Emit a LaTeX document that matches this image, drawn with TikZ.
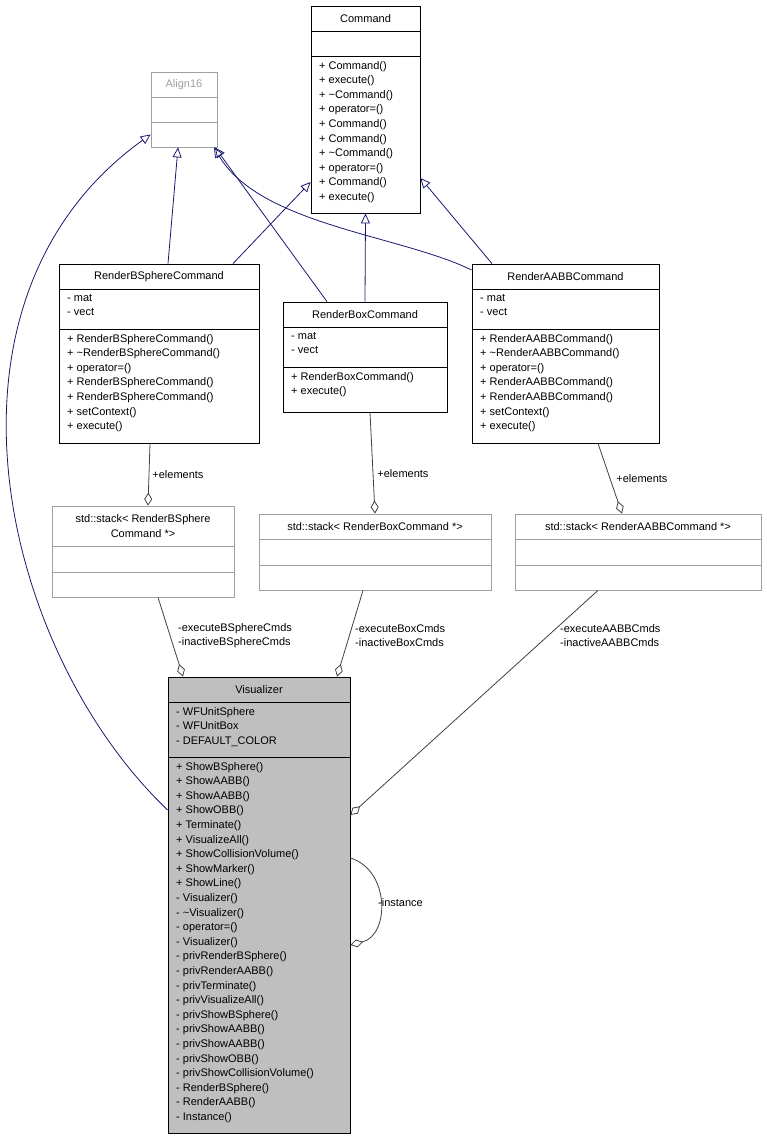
\documentclass[tikz,border=0pt]{standalone}
\usepackage{fontspec}
\setmainfont{Liberation Sans}
\usetikzlibrary{arrows.meta}
\definecolor{edgeblue}{HTML}{191970}
\definecolor{edgegray}{HTML}{404040}
\definecolor{boxgray}{HTML}{BFBFBF}
\definecolor{undocgray}{HTML}{A0A0A0}
\tikzset{
  cls/.style={draw=black, fill=white, line width=0.8pt, inner sep=0pt},
  undoc/.style={cls, draw=undocgray},
  cur/.style={cls, fill=boxgray},
  sep/.style={line width=0.8pt},
  members/.style={anchor=north west, align=left, inner sep=0pt},
  title/.style={anchor=center, align=center, inner sep=0pt},
  inherit/.style={draw=edgeblue, line width=0.8pt, -{Triangle[open, length=10pt, width=9pt]}},
  aggr/.style={draw=edgegray, line width=0.8pt, -{Diamond[open, length=13pt, width=8pt]}},
  lbl/.style={anchor=west, align=left, inner sep=0pt}
}
\begin{document}
\begin{tikzpicture}[x=1pt, y=-1pt, font=\fontsize{11}{14.6}\selectfont]
  \useasboundingbox (0,0) rectangle (766,1140);

  % base classes
  \node[undoc, minimum width=66pt, minimum height=75pt] (align) at (184,109.5) {};
  \draw[undocgray, sep] (151,97) -- (217,97) (151,122) -- (217,122);
  \node[title, text=undocgray] (alignT) at (184,84.5) {Align16};

  \node[cls, minimum width=109pt, minimum height=207pt] (cmd) at (365.5,109.5) {};
  \draw[sep] (311,31) -- (420,31) (311,56) -- (420,56);
  \node[title] (cmdT) at (365.5,18.5) {Command};
  \node[members] (cmdM) at (319,61) {+ Command()\\+ execute()\\+ \textasciitilde Command()\\+ operator=()\\+ Command()\\+ Command()\\+ \textasciitilde Command()\\+ operator=()\\+ Command()\\+ execute()};

  % commands
  \node[cls, minimum width=200pt, minimum height=179pt] (bsph) at (159,353.5) {};
  \draw[sep] (59,289) -- (259,289) (59,329) -- (259,329);
  \node[title] (bsphT) at (159,276.5) {RenderBSphereCommand};
  \node[members] (bsphA) at (67,294) {- mat\\- vect};
  \node[members] (bsphM) at (67,334) {+ RenderBSphereCommand()\\+ \textasciitilde RenderBSphereCommand()\\+ operator=()\\+ RenderBSphereCommand()\\+ RenderBSphereCommand()\\+ setContext()\\+ execute()};

  \node[cls, minimum width=164pt, minimum height=110pt] (box) at (365,357) {};
  \draw[sep] (283,327) -- (447,327) (283,367) -- (447,367);
  \node[title] (boxT) at (365,314.5) {RenderBoxCommand};
  \node[members] (boxA) at (291,332) {- mat\\- vect};
  \node[members] (boxM) at (291,372) {+ RenderBoxCommand()\\+ execute()};

  \node[cls, minimum width=187pt, minimum height=179pt] (aabb) at (565.5,353.5) {};
  \draw[sep] (472,289) -- (659,289) (472,329) -- (659,329);
  \node[title] (aabbT) at (565.5,276.5) {RenderAABBCommand};
  \node[members] (aabbA) at (480,294) {- mat\\- vect};
  \node[members] (aabbM) at (480,334) {+ RenderAABBCommand()\\+ \textasciitilde RenderAABBCommand()\\+ operator=()\\+ RenderAABBCommand()\\+ RenderAABBCommand()\\+ setContext()\\+ execute()};

  % stacks
  \node[undoc, minimum width=182pt, minimum height=91pt] (stkS) at (143,551.5) {};
  \draw[undocgray, sep] (52,546) -- (234,546) (52,572) -- (234,572);
  \node[title] (stkST) at (143,526) {std::stack< RenderBSphere\\Command *>};

  \node[undoc, minimum width=232pt, minimum height=76pt] (stkB) at (375,552) {};
  \draw[undocgray, sep] (259,539) -- (491,539) (259,565) -- (491,565);
  \node[title] (stkBT) at (375,526.5) {std::stack< RenderBoxCommand *>};

  \node[undoc, minimum width=246pt, minimum height=76pt] (stkA) at (638,552) {};
  \draw[undocgray, sep] (515,539) -- (761,539) (515,565) -- (761,565);
  \node[title] (stkAT) at (638,526.5) {std::stack< RenderAABBCommand *>};

  % visualizer
  \node[cur, minimum width=182pt, minimum height=456pt] (vis) at (259,905) {};
  \draw[sep] (168,702) -- (350,702) (168,757) -- (350,757);
  \node[title] (visT) at (259,689.5) {Visualizer};
  \node[members] (visA) at (176,707) {- WFUnitSphere\\- WFUnitBox\\- DEFAULT\_COLOR};
  \node[members] (visM) at (176,762) {+ ShowBSphere()\\+ ShowAABB()\\+ ShowAABB()\\+ ShowOBB()\\+ Terminate()\\+ VisualizeAll()\\+ ShowCollisionVolume()\\+ ShowMarker()\\+ ShowLine()\\- Visualizer()\\- \textasciitilde Visualizer()\\- operator=()\\- Visualizer()\\- privRenderBSphere()\\- privRenderAABB()\\- privTerminate()\\- privVisualizeAll()\\- privShowBSphere()\\- privShowAABB()\\- privShowAABB()\\- privShowOBB()\\- privShowCollisionVolume()\\- RenderBSphere()\\- RenderAABB()\\- Instance()};

  % inheritance
  \draw[inherit] ([xshift=9pt]bsph.north) -- ([xshift=-6pt]align.south);
  \draw[inherit] ([xshift=74pt]bsph.north) -- ([yshift=-72.5pt]cmd.west);
  \draw[inherit] ([xshift=-38pt]box.north) -- ([xshift=31pt]align.south);
  \draw[inherit] (box.north) -- (cmd.south);
  \draw[inherit] ([xshift=-73.5pt]aabb.north) -- ([yshift=-68.5pt]cmd.east);
  \draw[inherit] ([yshift=83.5pt]aabb.west) .. controls (400,235) and (260,225) .. ([xshift=30pt]align.south);
  \draw[inherit] ([yshift=95pt]vis.west) .. controls (0,650) and (-80,300) .. ([yshift=-25pt]align.west);

  % aggregation
  \draw[aggr] ([xshift=-9pt]bsph.south) -- ([xshift=5pt]stkS.north) node[lbl, pos=0.5, xshift=3pt] {+elements};
  \draw[aggr] ([xshift=5pt]box.south) -- (stkB.north) node[lbl, pos=0.6, xshift=4pt] {+elements};
  \draw[aggr] ([xshift=32.5pt]aabb.south) -- ([xshift=-16pt]stkA.north) node[lbl, pos=0.5, xshift=6pt] {+elements};
  \draw[aggr] ([xshift=15pt]stkS.south) -- ([xshift=-76pt]vis.north);
  \draw[aggr] ([xshift=-12pt]stkB.south) -- ([xshift=78pt]vis.north);
  \draw[aggr] ([xshift=-40pt]stkA.south) -- ([yshift=90pt]vis.east);
  \draw[aggr] ([yshift=47pt]vis.east) .. controls (390,870) and (390,935) .. ([yshift=-40pt]vis.east);
  \node[lbl] (lblS) at (178,635.5) {-executeBSphereCmds\\-inactiveBSphereCmds};
  \node[lbl] (lblB) at (355,635.5) {-executeBoxCmds\\-inactiveBoxCmds};
  \node[lbl] (lblA) at (560,635.5) {-executeAABBCmds\\-inactiveAABBCmds};
  \node[lbl] (lblI) at (378,903) {-instance};
\end{tikzpicture}
\end{document}
